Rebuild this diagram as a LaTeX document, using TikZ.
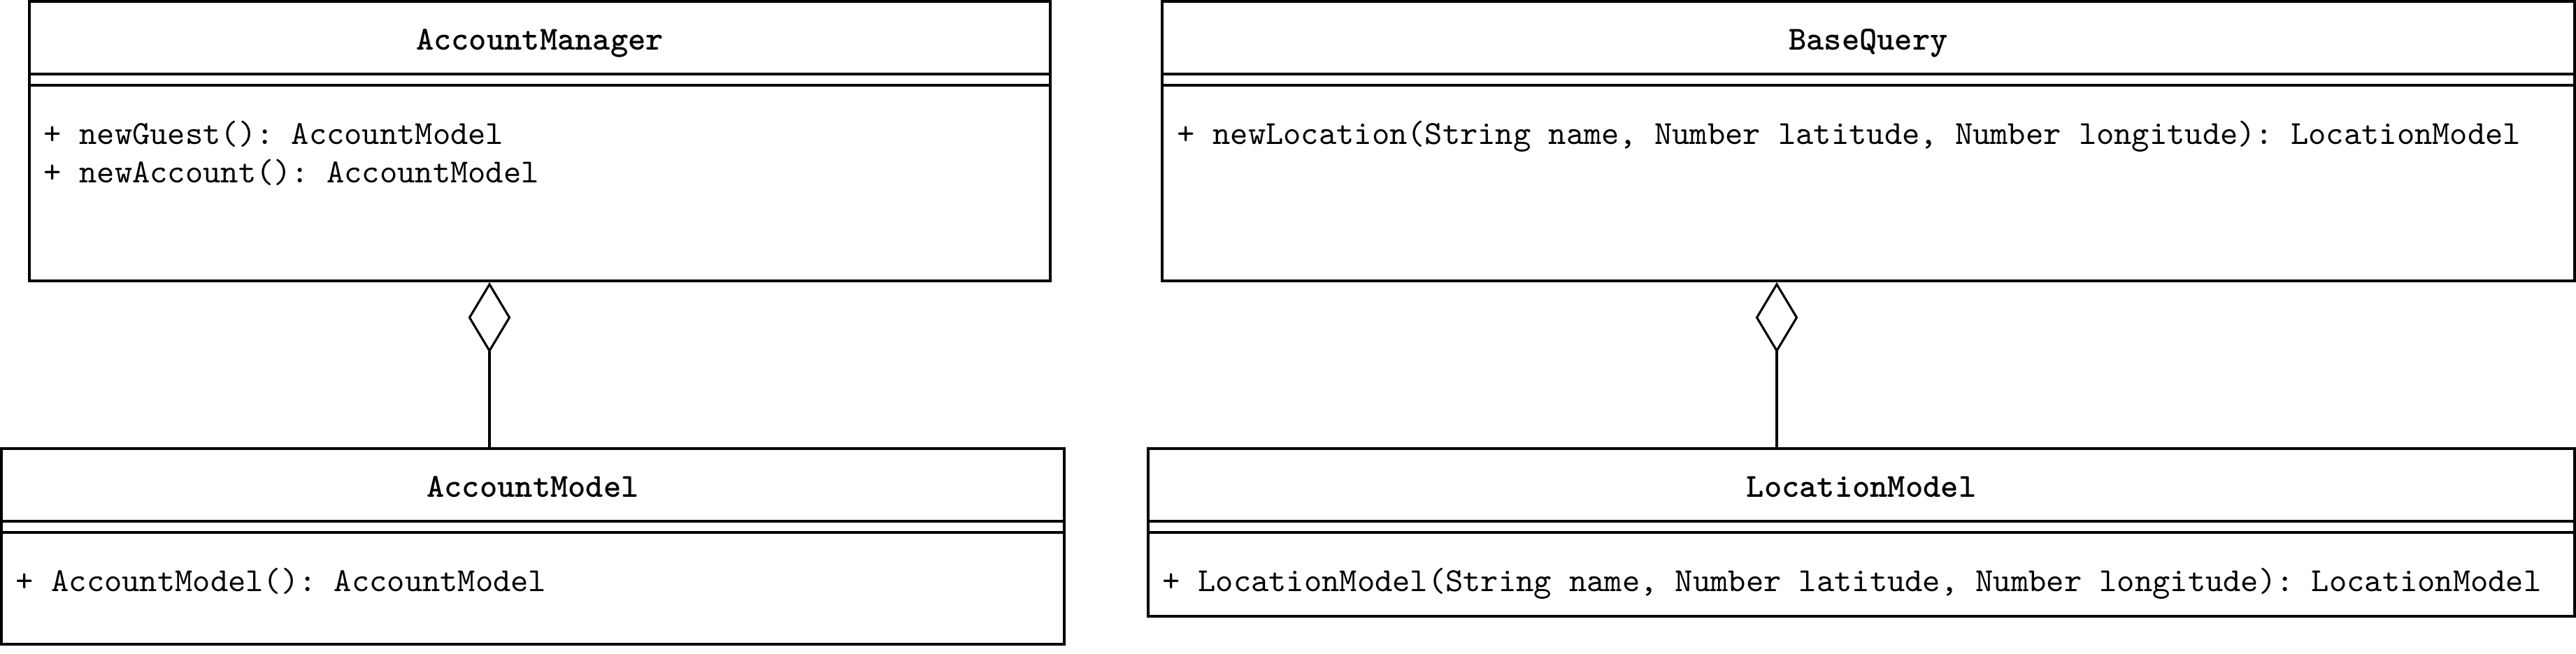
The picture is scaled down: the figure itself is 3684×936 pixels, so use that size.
\documentclass[tikz,border=0pt]{standalone}
\usetikzlibrary{fit,arrows.meta}
\tikzset{
  classbox/.style={draw, line width=0.8pt, inner sep=0pt, rectangle},
  sepline/.style={line width=0.8pt},
  title/.style={font=\ttfamily\bfseries, anchor=base, inner sep=0pt},
  method/.style={font=\ttfamily, anchor=base west, inner sep=0pt},
  agg/.style={line width=0.65pt, -{Diamond[open, length=21pt, width=12.6pt, line width=0.65pt]}}
}
\frenchspacing
\begin{document}
\begin{tikzpicture}[x=0.2077pt, y=-0.2077pt]
\useasboundingbox (0,0) rectangle (3684,936);
% AccountManager
\node[classbox, fit={(42,2)(1502,402)}] (am) {};
\draw[sepline] (42,106) -- (1502,106);
\draw[sepline] (42,122) -- (1502,122);
\node[title] (amt) at (772,72) {AccountManager};
\node[method] (am1) at (62,207) {+ newGuest(): AccountModel};
\node[method] (am2) at (62,262) {+ newAccount(): AccountModel};
% BaseQuery
\node[classbox, fit={(1662,2)(3682,402)}] (bq) {};
\draw[sepline] (1662,106) -- (3682,106);
\draw[sepline] (1662,122) -- (3682,122);
\node[title] (bqt) at (2672,72) {BaseQuery};
\node[method] (bq1) at (1683,207) {+ newLocation(String name, Number latitude, Number longitude): LocationModel};
% AccountModel
\node[classbox, fit={(2,642)(1522,922)}] (amod) {};
\draw[sepline] (2,746) -- (1522,746);
\draw[sepline] (2,762) -- (1522,762);
\node[title] (amodt) at (762,712) {AccountModel};
\node[method] (amod1) at (22,847) {+ AccountModel(): AccountModel};
% LocationModel
\node[classbox, fit={(1642,642)(3682,882)}] (lm) {};
\draw[sepline] (1642,746) -- (3682,746);
\draw[sepline] (1642,762) -- (3682,762);
\node[title] (lmt) at (2662,712) {LocationModel};
\node[method] (lm1) at (1662,847) {+ LocationModel(String name, Number latitude, Number longitude): LocationModel};
% aggregations
\coordinate (c1) at (700,0);
\coordinate (c2) at (2541,0);
\draw[agg] (amod.north -| c1) -- (am.south -| c1);
\draw[agg] (lm.north -| c2) -- (bq.south -| c2);
\end{tikzpicture}
\end{document}
